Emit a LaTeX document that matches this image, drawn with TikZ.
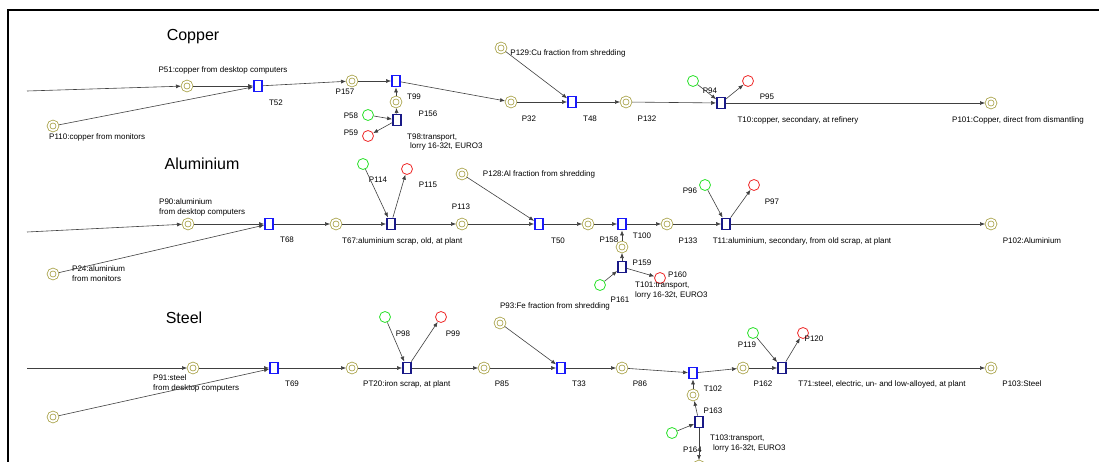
\documentclass[tikz,border=0pt]{standalone}
\usepackage{fontspec}
\setmainfont{Liberation Sans}
\usetikzlibrary{arrows.meta,positioning}
\definecolor{plc}{RGB}{170,164,76}
\definecolor{srcg}{RGB}{40,225,40}
\definecolor{snkr}{RGB}{238,40,40}
\definecolor{tbl}{RGB}{25,25,250}
\definecolor{tnv}{RGB}{25,25,135}
\tikzset{
  pn/.style={x=1pt,y=-1pt,>={Latex[length=5pt,width=4pt]},
    every edge/.style={draw=black!75,line width=0.6pt,->},
    lbl/.style={font=\fontsize{8}{9.5}\selectfont,inner sep=0pt,align=left},
    head/.style={font=\fontsize{16}{18}\selectfont,inner sep=0pt}},
  place/.style={circle,draw=plc,line width=0.8pt,double=white,double distance=1.8pt,
    minimum size=9pt,inner sep=0pt,outer sep=1.5pt},
  src/.style={circle,draw=srcg,line width=0.8pt,minimum size=11pt,inner sep=0pt},
  snk/.style={circle,draw=snkr,line width=0.8pt,minimum size=11pt,inner sep=0pt},
  trans/.style={rectangle,draw=tbl,fill=white,line width=1.8pt,minimum width=8pt,
    minimum height=11pt,inner sep=0pt},
  transd/.style={trans,draw=tnv},
}
\begin{document}
\begin{tikzpicture}[pn]
  \useasboundingbox (0,0) rectangle (1099,462);
  \draw[line width=2pt] (8,462) -- (8,10) -- (1099,10);

  % Copper
  \node[head] (cu) at (193,37) {Copper};
  \coordinate (cuin) at (27,91);
  \node[place] (P51) at (187,86) {};
  \node[trans] (T52) at (258,86) {};
  \node[place] (P110) at (53,126) {};
  \node[place] (P157) at (352,81) {};
  \node[trans] (T99) at (396,81) {};
  \node[place] (P156) at (396,102) {};
  \node[transd] (T98) at (397,120) {};
  \node[src] (P58) at (368,115) {};
  \node[snk] (P59) at (368,136) {};
  \node[place] (P32) at (511,102) {};
  \node[trans] (T48) at (572,102) {};
  \node[place] (P129) at (501,48) {};
  \node[place] (P132) at (626,102) {};
  \node[transd] (T10) at (721,103) {};
  \node[src] (P94) at (693,81) {};
  \node[snk] (P95) at (748,81) {};
  \node[place] (P101) at (991,103) {};

  \node[lbl] (lP51) at (223,70) {P51:copper from desktop computers};
  \node[lbl] (lT52) at (276,103) {T52};
  \node[lbl,anchor=west] (lP110) at (49,137) {P110:copper from monitors};
  \node[lbl] (lP157) at (345,92) {P157};
  \node[lbl] (lT99) at (414,97) {T99};
  \node[lbl] (lP156) at (428,114) {P156};
  \node[lbl,anchor=west] (lT98) at (407,142) {T98:transport,\\\hspace{3pt}lorry 16-32t, EURO3};
  \node[lbl] (lP58) at (351,116) {P58};
  \node[lbl] (lP59) at (351,133) {P59};
  \node[lbl] (lP32) at (529,119) {P32};
  \node[lbl] (lT48) at (590,119) {T48};
  \node[lbl] (lP129) at (568,53) {P129:Cu fraction from shredding};
  \node[lbl] (lP132) at (647,119) {P132};
  \node[lbl] (lP94) at (710,91) {P94};
  \node[lbl] (lP95) at (767,97) {P95};
  \node[lbl] (lT10) at (798,120) {T10:copper, secondary, at refinery};
  \node[lbl] (lP101) at (1018,120) {P101:Copper, direct from dismantling};

  \path (cuin) edge (P51)
        (P51) edge (T52) (P110) edge (T52) (T52) edge (P157)
        (P157) edge (T99) (P58) edge (T98) (T98) edge (P59)
        (T98) edge (P156) (P156) edge (T99) (T99) edge (P32)
        (P32) edge (T48) (P129) edge (T48) (T48) edge (P132)
        (P132) edge (T10) (P94) edge (T10) (T10) edge (P95)
        (T10) edge (P101);

  % Aluminium
  \node[head] (al) at (202,164) {Aluminium};
  \coordinate (alin) at (27,232);
  \node[place] (P90) at (188,224) {};
  \node[trans] (T68) at (269,224) {};
  \node[place] (P24) at (53,274) {};
  \node[place] (P112) at (336,224) {};
  \node[transd] (T67) at (391,224) {};
  \node[src] (P114) at (363,164) {};
  \node[snk] (P115) at (407,169) {};
  \node[place] (P113) at (462,224) {};
  \node[place] (P128) at (462,174) {};
  \node[trans] (T50) at (539,224) {};
  \node[place] (P150) at (588,224) {};
  \node[trans] (T100) at (622,224) {};
  \node[place] (P158) at (622,247) {};
  \node[transd] (T101) at (622,267) {};
  \node[src] (P161) at (600,285) {};
  \node[snk] (P160) at (660,278) {};
  \node[place] (P133) at (667,224) {};
  \node[transd] (T11) at (726,224) {};
  \node[src] (P96) at (705,185) {};
  \node[snk] (P97) at (754,185) {};
  \node[place] (P102) at (991,224) {};

  \node[lbl,anchor=west] (lP90) at (159,207.5) {P90:aluminium\\from desktop computers};
  \node[lbl] (lT68) at (287,240) {T68};
  \node[lbl,anchor=west] (lP24) at (72,273.5) {P24:aluminium\\from monitors};
  \node[lbl,anchor=west] (lT67) at (342,241) {T67:aluminium scrap, old, at plant};
  \node[lbl] (lP114) at (378,180) {P114};
  \node[lbl] (lP115) at (428,185) {P115};
  \node[lbl] (lP113) at (461,207) {P113};
  \node[lbl] (lP128) at (539,174) {P128:Al fraction from shredding};
  \node[lbl] (lT50) at (558,241) {T50};
  \node[lbl] (lP158) at (609,240) {P158};
  \node[lbl] (lT100) at (642,236) {T100};
  \node[lbl] (lP159) at (642,263) {P159};
  \node[lbl] (lP161) at (620,300) {P161};
  \node[lbl,anchor=west] (lT101) at (635,290.5) {T101:transport,\\lorry 16-32t, EURO3};
  \node[lbl,anchor=west] (lP160) at (668,275) {P160};
  \node[lbl] (lP133) at (688,241) {P133};
  \node[lbl] (lT11) at (802,241) {T11:aluminium, secondary, from old scrap, at plant};
  \node[lbl] (lP96) at (690,191) {P96};
  \node[lbl] (lP97) at (772,202) {P97};
  \node[lbl] (lP102) at (1032,241) {P102:Aluminium};

  \path (alin) edge (P90)
        (P90) edge (T68) (P24) edge (T68) (T68) edge (P112)
        (P112) edge (T67) (P114) edge (T67) (T67) edge (P115)
        (T67) edge (P113) (P113) edge (T50) (P128) edge (T50)
        (T50) edge (P150) (P150) edge (T100) (P161) edge (T101)
        (T101) edge (P160) (T101) edge (P158) (P158) edge (T100)
        (T100) edge (P133) (P133) edge (T11) (P96) edge (T11)
        (T11) edge (P97) (T11) edge (P102);

  % Steel
  \node[head] (st) at (184,318) {Steel};
  \coordinate (stin) at (27,368);
  \node[place] (P91) at (193,368) {};
  \node[trans] (T69) at (274,368) {};
  \node[place] (P92) at (53,417) {};
  \node[place] (P117) at (352,368) {};
  \node[transd] (T20) at (407,368) {};
  \node[src] (P98) at (385,317) {};
  \node[snk] (P99) at (441,317) {};
  \node[place] (P85) at (484,368) {};
  \node[place] (P93) at (500,323) {};
  \node[trans] (T33) at (561,368) {};
  \node[place] (P86) at (622,368) {};
  \node[trans] (T102) at (693,373) {};
  \node[place] (P163) at (693,395) {};
  \node[transd] (T103) at (699,422) {};
  \node[src] (P165) at (672,433) {};
  \node[place] (P164) at (699,466) {};
  \node[place] (P162) at (743,368) {};
  \node[transd] (T71) at (782,368) {};
  \node[src] (P119) at (753,333) {};
  \node[snk] (P120) at (803,333) {};
  \node[place] (P103) at (991,368) {};

  \node[lbl,anchor=west] (lP91) at (153,383.5) {P91:steel\\from desktop computers};
  \node[lbl] (lT69) at (292,384) {T69};
  \node[lbl,anchor=west] (lT20) at (363,384) {PT20:iron scrap, at plant};
  \node[lbl] (lP98) at (403,334) {P98};
  \node[lbl] (lP99) at (453,334) {P99};
  \node[lbl] (lP85) at (502,384) {P85};
  \node[lbl] (lP93) at (555,306) {P93:Fe fraction from shredding};
  \node[lbl] (lT33) at (579,384) {T33};
  \node[lbl] (lP86) at (640,384) {P86};
  \node[lbl] (lT102) at (713,389) {T102};
  \node[lbl] (lP163) at (713,411) {P163};
  \node[lbl,anchor=west] (lT103) at (710,443.5) {T103:transport,\\\hspace{3pt}lorry 16-32t, EURO3};
  \node[lbl,anchor=west] (lP164) at (683,450) {P164};
  \node[lbl] (lP162) at (763,384) {P162};
  \node[lbl] (lT71) at (882,384) {T71:steel, electric, un- and low-alloyed, at plant};
  \node[lbl] (lP119) at (747,345) {P119};
  \node[lbl] (lP120) at (814,339) {P120};
  \node[lbl] (lP103) at (1022,384) {P103:Steel};

  \path (stin) edge (P91)
        (P91) edge (T69) (P92) edge (T69) (T69) edge (P117)
        (P117) edge (T20) (P98) edge (T20) (T20) edge (P99)
        (T20) edge (P85) (P85) edge (T33) (P93) edge (T33)
        (T33) edge (P86) (P86) edge (T102) (P165) edge (T103)
        (T103) edge (P164) (T103) edge (P163) (P163) edge (T102)
        (T102) edge (P162) (P162) edge (T71) (P119) edge (T71)
        (T71) edge (P120) (T71) edge (P103);
\end{tikzpicture}
\end{document}
